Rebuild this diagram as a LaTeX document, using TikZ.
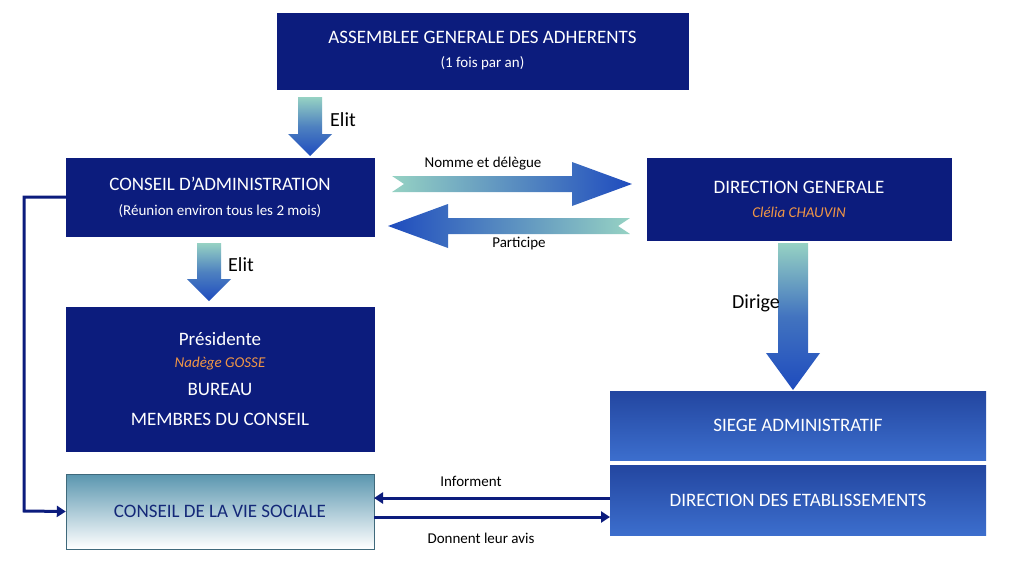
\documentclass[tikz,border=0pt]{standalone}
\usepackage{fontspec}
\setmainfont{Carlito}
\usetikzlibrary{arrows.meta}
\definecolor{navy}{RGB}{12,28,125}
\definecolor{lteal}{RGB}{150,210,195}
\definecolor{ablue}{RGB}{30,75,190}
\definecolor{orng}{RGB}{240,150,70}
\definecolor{sblue1}{RGB}{35,70,160}
\definecolor{sblue2}{RGB}{60,110,205}
\definecolor{cteal}{RGB}{90,150,175}
\definecolor{ctext}{RGB}{20,40,120}
\begin{document}
\begin{tikzpicture}[x=1pt,y=-1pt,
  dark/.style={fill=navy,draw=navy,text=white,font=\fontsize{19}{22}\selectfont,align=center,inner sep=0pt},
  lbl/.style={font=\fontsize{15}{17}\selectfont,text=black},
  big/.style={font=\fontsize{20}{22}\selectfont,text=black},
  con/.style={draw=navy,line width=3pt,-{Triangle[length=9pt,width=11pt]}}]
\useasboundingbox (0,0) rectangle (1012,562);
\fill[white] (0,0) rectangle (1012,562);
% boxes
\node[dark,minimum width=411,minimum height=76] (ag) at (482.5,51) {ASSEMBLEE GENERALE DES ADHERENTS\\[2pt]{\fontsize{15}{17}\selectfont (1 fois par an)}};
\node[dark,minimum width=308,minimum height=78] (ca) at (220,197) {CONSEIL D’ADMINISTRATION\\[3pt]{\fontsize{15}{17}\selectfont (Réunion environ tous les 2 mois)}};
\node[dark,minimum width=304,minimum height=82] (dg) at (799,199) {DIRECTION GENERALE\\[2pt]{\fontsize{15}{17}\selectfont\itshape\color{orng} Clélia CHAUVIN}};
\node[dark,minimum width=308,minimum height=144] (pr) at (220,379) {Présidente\\[0pt]{\fontsize{15}{17}\selectfont\itshape\color{orng} Nadège GOSSE}\\[6pt]BUREAU\\[8pt]MEMBRES DU CONSEIL};
\shade[top color=sblue1,bottom color=sblue2] (610,391) rectangle (986,460);
\node[text=white,font=\fontsize{19}{22}\selectfont,minimum width=376,minimum height=69] (sa) at (798,425.5) {SIEGE ADMINISTRATIF};
\shade[top color=sblue1,bottom color=sblue2] (610,465) rectangle (986,535);
\node[text=white,font=\fontsize{19}{22}\selectfont,minimum width=376,minimum height=70,inner sep=0pt] (de) at (798,500) {DIRECTION DES ETABLISSEMENTS};
\shade[top color=cteal,bottom color=white,draw=cteal!70!black] (66,474) rectangle (374,549);
\node[text=ctext,font=\fontsize{19}{22}\selectfont,minimum width=308,minimum height=75,inner sep=0pt] (cvs) at (220,511.5) {CONSEIL DE LA VIE SOCIALE};
% fat arrows
\shade[top color=lteal,bottom color=ablue,middle color=ablue!60!lteal] (298,97) -- (322,97) -- (322,134) -- (332,134) -- (310,156) -- (288,134) -- (298,134) -- cycle;
\shade[top color=lteal,bottom color=ablue,middle color=ablue!60!lteal] (197,243) -- (221,243) -- (221,279) -- (231,279) -- (209,301) -- (187,279) -- (197,279) -- cycle;
\shade[top color=lteal,bottom color=ablue,middle color=ablue!70!lteal] (778,243) -- (808,243) -- (808,353) -- (820,353) -- (793,390) -- (766,353) -- (778,353) -- cycle;
\shade[left color=lteal,right color=ablue,middle color=ablue!50!lteal] (392,176) -- (572,176) -- (572,162) -- (632,184) -- (572,206) -- (572,192) -- (392,192) -- (404,184) -- cycle;
\shade[left color=ablue,right color=lteal,middle color=ablue!50!lteal] (630,218) -- (448,218) -- (448,204) -- (388,226) -- (448,248) -- (448,234) -- (630,234) -- (618,226) -- cycle;
% labels
\node[big] (e1) at (343,120) {Elit};
\node[big] (e2) at (241,265) {Elit};
\node[big] (dr) at (756,303) {Dirige};
\node[lbl] (nd) at (483,164) {Nomme et délègue};
\node[lbl] (pa) at (519,244) {Participe};
\node[lbl] (inf) at (471,481) {Informent};
\node[lbl] (dla) at (481,538) {Donnent leur avis};
% connectors
\coordinate (c1) at (24,197);
\coordinate (c2) at (24,511);
\draw[con] (ca.west) -- (c1) -- (c2) -- (cvs.west);
\draw[con] (610,498) -- (374,498);
\draw[con] (374,517) -- (610,517);
\end{tikzpicture}
\end{document}
